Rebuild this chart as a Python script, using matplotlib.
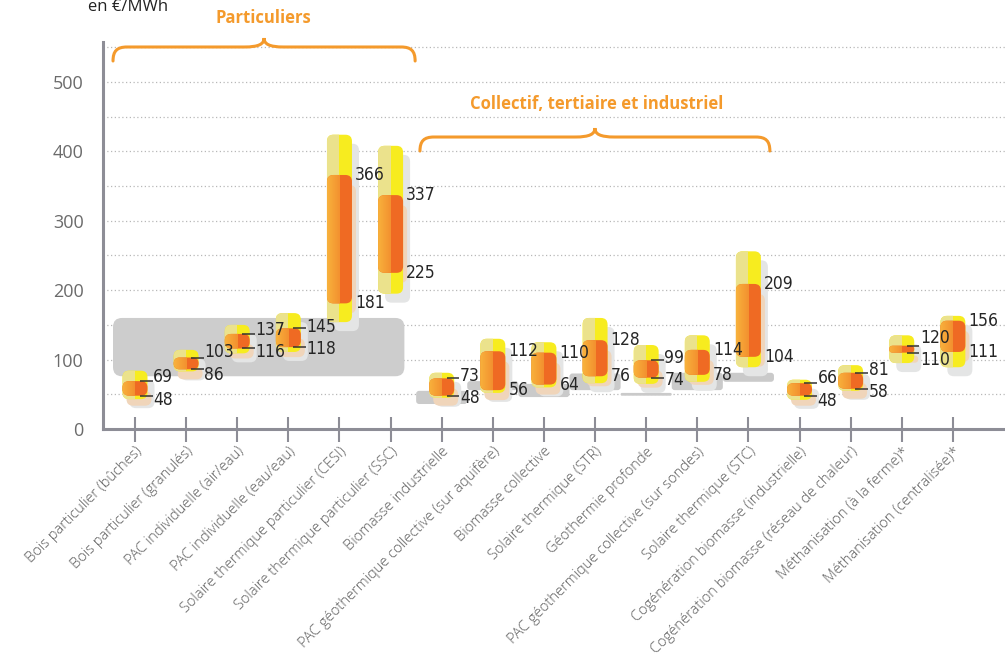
import matplotlib
matplotlib.use("Agg")
import matplotlib.pyplot as plt
import numpy as np
from matplotlib import font_manager as fm
from matplotlib.patches import FancyBboxPatch, Rectangle, PathPatch
from matplotlib.path import Path
from matplotlib.colors import LinearSegmentedColormap

plt.rcParams['font.family'] = ['Open Sans', 'DejaVu Sans']

# ---- data ----
categories = [
    "Bois particulier (bûches)", "Bois particulier (granulés)",
    "PAC individuelle (air/eau)", "PAC individuelle (eau/eau)",
    "Solaire thermique particulier (CESI)", "Solaire thermique particulier (SSC)",
    "Biomasse industrielle", "PAC géothermique collective (sur aquifère)",
    "Biomasse collective", "Solaire thermique (STR)", "Géothermie profonde",
    "PAC géothermique collective (sur sondes)", "Solaire thermique (STC)",
    "Cogénération biomasse (industrielle)", "Cogénération biomasse (réseau de chaleur)",
    "Méthanisation (à la ferme)*", "Méthanisation (centralisée)*",
]
cost_low = [48, 86, 116, 118, 181, 225, 48, 56, 64, 76, 74, 78, 104, 48, 58, 110, 111]
cost_high = [69, 103, 137, 145, 366, 337, 73, 112, 110, 128, 99, 114, 209, 66, 81, 120, 156]
range_low = [43, 83, 109, 111, 154, 195, 45, 52, 60, 66, 65, 68, 89, 42, 55, 95, 89]
range_high = [84, 114, 150, 167, 424, 408, 81, 130, 125, 160, 121, 135, 256, 71, 92, 135, 163]
with_leader = [1, 1, 1, 1, 0, 0, 1, 0, 0, 0, 1, 0, 0, 1, 1, 1, 0]

ref_part_low, ref_part_high = 76, 160
ref_band_idx = [6, 7, 8, 9, 10, 11, 12]
ref_band_low = [36, 56, 46, 56, 48, 56, 68]
ref_band_high = [55, 69, 65, 80, 52, 81, 81]

yticks = [0, 100, 200, 300, 400, 500]
group_names = ["Particuliers", "Collectif, tertiaire et industriel"]

# narrow font for the value labels, if one is installed
num_font = fm.FontProperties(family=['Roboto', 'DejaVu Sans'], size=12)
for f in fm.fontManager.ttflist:
    narrowish = f.stretch in ('condensed', 'semi-condensed') or 'Narrow' in f.name or 'Condensed' in f.name
    if narrowish and f.weight in (400, 'normal', 'regular') and f.style == 'normal':
        num_font = fm.FontProperties(fname=f.fname, size=12.5)
        break

# ---- layout ----
W, H = 1005, 660
fig = plt.figure(figsize=(W / 100, H / 100), dpi=100)
ax = fig.add_axes([103 / W, 1 - 429 / H, (W - 103) / W, (429 - 42) / H])
xmin, xmax = -0.626, 17.02
ymin, ymax = 0, 557.6
ppx = (W - 103) / (xmax - xmin)
ppy = (429 - 42) / (ymax - ymin)
hw = 12.5 / ppx

ORANGE_TXT = '#f49a2c'
orange_grad = LinearSegmentedColormap.from_list('og', ['#f8b23c', '#f3902f'])


def capsule(x, lo, hi, color, z, dxp=0, dyp=0):
    r = min(6.5, (hi - lo) * ppy / 2, 12)
    p = FancyBboxPatch((x - hw + dxp / ppx, lo - dyp / ppy), 2 * hw, hi - lo,
                       boxstyle=f"round,pad=0,rounding_size={r / ppx}",
                       mutation_aspect=ppx / ppy, fc=color, ec='none', zorder=z)
    ax.add_patch(p)
    return p


# grid (dotted)
ax.hlines(np.arange(50, 551, 50), xmin, xmax, colors='#b8b8b8',
          linestyles=(0, (1, 2)), lw=0.9, zorder=0.5)

# grey reference areas
big = FancyBboxPatch((-0.43, ref_part_low), 5.7, ref_part_high - ref_part_low,
                     boxstyle=f"round,pad=0,rounding_size={9 / ppx}",
                     mutation_aspect=ppx / ppy, fc='#cdcdcd', ec='none', zorder=1)
ax.add_patch(big)
for i, lo, hi in zip(ref_band_idx, ref_band_low, ref_band_high):
    ax.add_patch(FancyBboxPatch((i - 0.5, lo), 1.0, hi - lo,
                                boxstyle=f"round,pad=0,rounding_size={min(3, (hi - lo) * ppy / 2) / ppx}",
                                mutation_aspect=ppx / ppy, fc='#cacaca', ec='none', zorder=1))

for i in range(len(categories)):
    x = i
    lo, hi = cost_low[i], cost_high[i]
    ylo, yhi = range_low[i], range_high[i]
    # shadows
    capsule(x, ylo, yhi, '#e4e5e5', 2, dxp=7, dyp=9)
    capsule(x, lo, hi, '#f0d5ba', 2.5, dxp=4, dyp=10)
    # outer yellow
    yp = capsule(x, ylo, yhi, '#f7ec1f', 3)
    lh = Rectangle((x - hw, ylo - 20), hw, yhi - ylo + 40, fc='#ebe28c', ec='none', zorder=3.1)
    ax.add_patch(lh)
    lh.set_clip_path(yp)
    # inner orange
    op = capsule(x, lo, hi, '#ef6a23', 4)
    im = ax.imshow(np.linspace(0, 1, 64).reshape(1, -1), cmap=orange_grad,
                   extent=(x - hw, x, lo - 5, hi + 5), aspect='auto',
                   interpolation='bilinear', zorder=4.1)
    im.set_clip_path(op)

    # value labels
    if with_leader[i]:
        for v in (lo, hi):
            ax.plot([x + hw - 0.15, x + hw + 0.1], [v, v], color='#333333', lw=1.1,
                    solid_capstyle='butt', zorder=6)
        mid = (lo + hi) / 2
        sep = max(hi - lo, 32)
        ty_hi, ty_lo = mid + sep / 2, mid - sep / 2
        tx = x + hw + 0.11
    else:
        ty_hi, ty_lo = hi, lo
        tx = x + hw + 0.06
    for ty, v in ((ty_hi, hi), (ty_lo, lo)):
        ax.text(tx, ty, str(v), ha='left', va='center', fontproperties=num_font,
                color='#262626', zorder=7)


def brace(xl, xr, yl, color):
    xm = (xl + xr) / 2
    dx = lambda p: p / ppx
    dy = lambda p: p / ppy
    verts = [
        (xl, yl - dy(14)),
        (xl, yl - dy(4)), (xl + dx(4), yl), (xl + dx(14), yl),
        (xm - dx(20), yl),
        (xm - dx(5), yl), (xm, yl + dy(3)), (xm, yl + dy(9)),
        (xm, yl + dy(3)), (xm + dx(5), yl), (xm + dx(20), yl),
        (xr - dx(14), yl),
        (xr - dx(4), yl), (xr, yl - dy(4)), (xr, yl - dy(14)),
    ]
    C, L = Path.CURVE4, Path.LINETO
    codes = [Path.MOVETO, C, C, C, L, C, C, C, C, C, C, L, C, C, C]
    ax.add_patch(PathPatch(Path(verts, codes), fc='none', ec=color, lw=2.2,
                           clip_on=False, zorder=6, capstyle='round'))


brace(-0.43, 5.48, 550.4, ORANGE_TXT)
brace(5.575, 12.42, 420.7, ORANGE_TXT)
ax.text(2.52, 592, group_names[0], ha='center', va='center', fontsize=12,
        fontweight='bold', color=ORANGE_TXT, clip_on=False)
ax.text(9.04, 468, group_names[1], ha='center', va='center', fontsize=12,
        fontweight='bold', color=ORANGE_TXT, clip_on=False)

fig.text(88 / W, 1 - 11 / H, "en €/MWh", ha='left', va='baseline', fontsize=12, color='#222222')

# axes styling
ax.set_xlim(xmin, xmax)
ax.set_ylim(ymin, ymax)
for s in ('top', 'right'):
    ax.spines[s].set_visible(False)
for s in ('left', 'bottom'):
    ax.spines[s].set_color('#8d8d96')
    ax.spines[s].set_linewidth(2.2)
ax.set_yticks(yticks)
ax.tick_params(axis='y', length=0, pad=14, labelsize=13, labelcolor='#6b6b6b')
ax.set_xticks(range(len(categories)))
ax.set_xticklabels(categories, rotation=45, ha='right', rotation_mode='anchor',
                   fontsize=10.5, fontweight='light', color='#5e5e5e')
ax.tick_params(axis='x', direction='inout', length=18, width=1.5, color='#8d8d96', pad=2)

fig.savefig('out.png', dpi=100)
